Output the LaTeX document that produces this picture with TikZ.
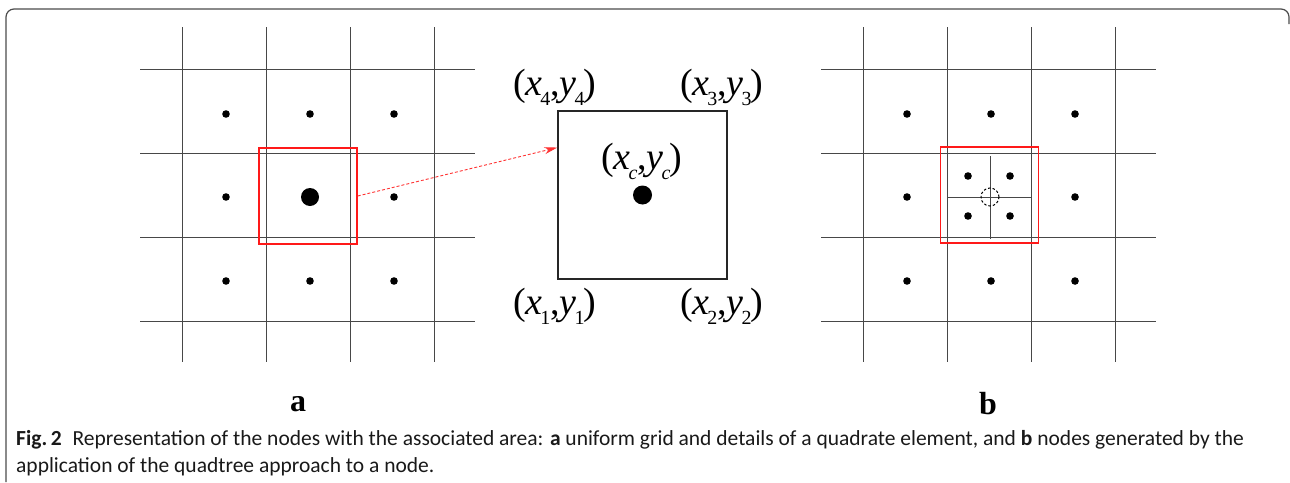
\documentclass[tikz,border=0pt]{standalone}
\usepackage{fontspec}
\usepackage{graphicx}
\usetikzlibrary{positioning,arrows.meta,calc}
\newfontfamily\timesfont{Liberation Serif}
\newfontfamily\capfont{Carlito}

\tikzstyle{gridline} = [draw=black!72, line width=0.95pt]
\tikzstyle{finegrid} = [draw=black!72, line width=0.8pt]
\tikzstyle{selbox} = [rectangle, draw=red!90, line width=1.4pt, 
minimum width=98pt, minimum height=96pt, inner sep=0pt]
\tikzstyle{element} = [rectangle, draw=black!85, line width=1.4pt, 
minimum width=169pt, minimum height=168pt, inner sep=0pt]
\tikzstyle{coordlabel} = [inner sep=0pt, font=\timesfont\fontsize{38}{40}\selectfont]
\tikzstyle{panel} = [inner sep=0pt, font=\timesfont\bfseries\fontsize{32}{34}\selectfont]
\tikzstyle{caption} = [anchor=base west, inner sep=0pt, font=\capfont\fontsize{21.5}{24}\selectfont, text=black!90]
\tikzstyle{arrow} = [draw=red!80, dashed, dash pattern=on 3pt off 2pt, line width=0.9pt, -{Stealth[length=13pt,width=7pt]}]
\tikzstyle{frame} = [draw=black!70, line width=1.2pt, rounded corners=8pt]

% corner coordinates (x_i,y_i)
\newcommand{\sub}[1]{\kern-0.04em\raisebox{-0.26em}{\fontsize{20}{20}\selectfont #1}}
\newcommand{\crd}[1]{(\kern-0.03em\textit{x}\sub{#1},\kern-0.02em\textit{y}\sub{#1}\kern-0.02em)}

\begin{document}
\begin{tikzpicture}[x=1pt,y=-1pt]
\useasboundingbox (0,0) rectangle (1290,482);

	%Frame round the figure
	\draw[frame] (6,482) -- (6,9) -- (1289,9) -- (1289,24);

	%Uniform grid (a) and grid with quadtree (b)
	\foreach \xo in {0,681} {
		\foreach \x in {182,266,350,434}
			\draw[gridline] (\x+\xo,27) -- (\x+\xo,362);
		\foreach \y in {69,153,237,321}
			\draw[gridline] (140+\xo,\y) -- (475+\xo,\y);
	}

	%Nodes of the grid
	\foreach \x in {226,310,394}
		\foreach \y in {114,197,281} {
			\fill (\x,\y) circle (3.8pt);
			\ifnum\x=310 \ifnum\y=197 \else \fill (\x+681,\y) circle (3.8pt); \fi
			\else \fill (\x+681,\y) circle (3.8pt); \fi
		}
	\fill (310,197) circle (9pt);

	%Selected element and its detail
	\node[selbox](selA) at (308,196) {};
	\node[element](elem) at (642.5,195) {};
	\fill (elem.center) circle (9.5pt);
	\coordinate (target) at ($(elem.north west)!0.22!(elem.south west)$);
	\path[arrow] (selA.east) -- (target);

	%Corner labels of the element
	\node[coordlabel](c4) at (555,87) {\crd{4}};
	\node[coordlabel](c3) at (722,87) {\crd{3}};
	\node[coordlabel](cc) at (642,161) {\crd{\textit{c}}};
	\node[coordlabel](c1) at (555,306) {\crd{1}};
	\node[coordlabel](c2) at (722,306) {\crd{2}};

	%Quadtree refinement of the central node
	\node[selbox](selB) at (989.5,195) {};
	\draw[finegrid] (947,197) -- (1032,197);
	\draw[finegrid] (990,156) -- (990,239);
	\foreach \x in {968,1010}
		\foreach \y in {176,216}
			\fill (\x,\y) circle (3.8pt);
	\draw[black, line width=1pt, dash pattern=on 2.5pt off 2pt] (990,197) circle (9pt);

	%Panel labels
	\node[panel](labA) at (298,404) {a};
	\node[panel](labB) at (988,404) {b};

	%Caption
	\node[caption](cap1) at (16,445) {\textbf{Fig.\,2}\enspace Representation of the nodes with the associated area: \textbf{a} uniform grid and details of a quadrate element, and \textbf{b} nodes generated by the};
	\node[caption](cap2) at (16,472) {application of the quadtree approach to a node.};
\end{tikzpicture}
\end{document}
